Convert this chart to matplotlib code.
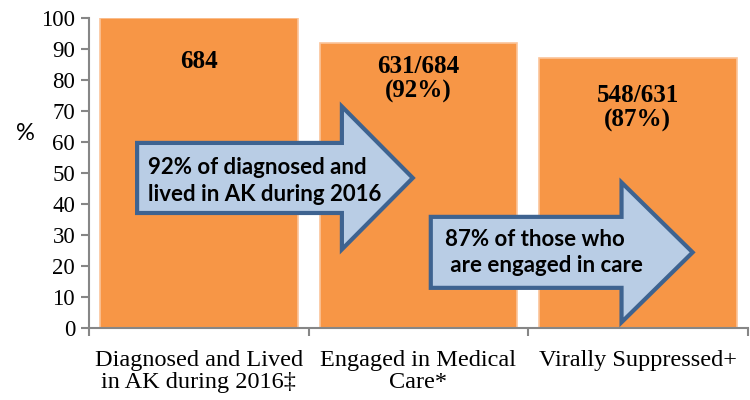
import numpy as np
import matplotlib.pyplot as plt
from matplotlib.patches import Polygon

categories = ["Diagnosed and Lived\nin AK during 2016\u2021",
              "Engaged in Medical\nCare*",
              "Virally Suppressed+"]
percent = [100, 92, 87]
bar_labels = ["684", "631/684\n(92%)", "548/631\n(87%)"]
label_y = [86.0, 80.3, 71.0]
arrow_texts = ["92% of diagnosed and\nlived in AK during 2016",
               "87% of those who\n are engaged in care"]

orange = "#F79646"
arrow_fill = "#B9CDE5"
arrow_edge = "#3E6390"
grey = "#868686"


def arrow(ax, x0, x1, x2, yc, body_h, head_h):
    # block arrow: body from x0 to x1, head from x1 to tip x2
    pts = [(x0, yc - body_h / 2), (x1, yc - body_h / 2), (x1, yc - head_h / 2),
           (x2, yc), (x1, yc + head_h / 2), (x1, yc + body_h / 2),
           (x0, yc + body_h / 2)]
    ax.add_patch(Polygon(pts, closed=True, facecolor=arrow_fill,
                         edgecolor=arrow_edge, linewidth=3, zorder=4,
                         joinstyle="miter"))


fig = plt.figure(figsize=(7.5, 4), dpi=100)
ax = fig.add_axes([0.1187, 0.18, 0.878, 0.775])

x = np.arange(len(categories))
ax.bar(x, percent, width=0.9, color=orange, edgecolor="#FBC49A",
       linewidth=1.2, zorder=2)

for i, (lab, yy) in enumerate(zip(bar_labels, label_y)):
    ax.text(x[i], yy, lab, ha="center", va="center", family="Liberation Serif",
            fontweight="bold", fontsize=18, linespacing=1.05, zorder=3)

arrow(ax, -0.281, 0.652, 0.975, 48.4, 22.6, 46.1)
arrow(ax, 1.057, 1.926, 2.250, 24.4, 22.9, 45.1)

ax.text(-0.231, 47.4, arrow_texts[0], ha="left", va="center", family="Lato",
        fontweight="bold", fontsize=16, linespacing=1.35, zorder=5)
ax.text(1.121, 24.35, arrow_texts[1], ha="left", va="center", family="Lato",
        fontweight="bold", fontsize=16, linespacing=1.35, zorder=5)

ax.set_xlim(-0.5, 2.5)
ax.set_ylim(0, 100)
ax.set_yticks(np.arange(0, 101, 10))
ax.set_xticks(x)
ax.set_xticklabels(categories, family="Liberation Serif", fontsize=17.5,
                   linespacing=1.05)
ax.set_xticks([-0.5, 0.5, 1.5, 2.5], minor=True)
ax.tick_params(axis="x", which="major", length=0, pad=16)
ax.tick_params(axis="x", which="minor", length=6, color=grey, width=1.5,
               direction="out")
ax.tick_params(axis="y", length=6, color=grey, width=1.5, direction="out",
               pad=4)
for lab in ax.get_yticklabels():
    lab.set_family("Liberation Serif")
    lab.set_fontsize(16.5)

for s in ["top", "right"]:
    ax.spines[s].set_visible(False)
for s in ["left", "bottom"]:
    ax.spines[s].set_color(grey)
    ax.spines[s].set_linewidth(1.5)

fig.text(25 / 750, 1 - 133 / 400, "%", family="Lato", fontsize=17,
         ha="center", va="center")

fig.savefig("out.png", dpi=100)
